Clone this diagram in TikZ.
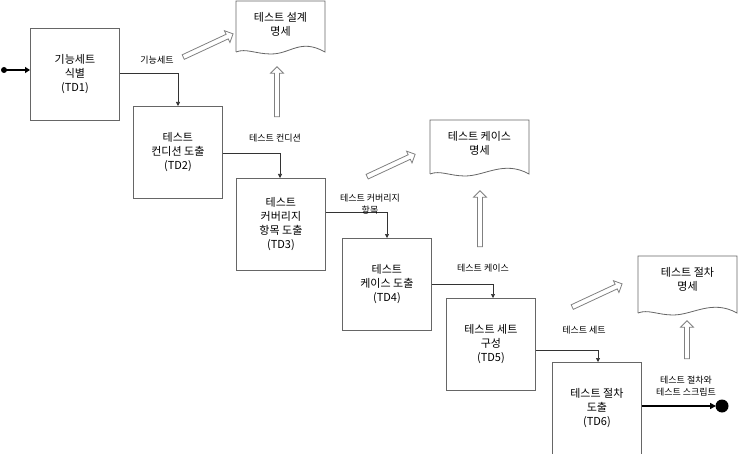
\documentclass[tikz,border=0pt]{standalone}
\usepackage{fontspec}
\setmainfont{Noto Sans CJK KR}
\usetikzlibrary{shapes.arrows,arrows.meta}
\begin{document}
\begin{tikzpicture}[x=1pt,y=-1pt,
  box/.style={draw=black!60,line width=0.8pt,minimum width=89pt,minimum height=92pt,align=center,font=\fontsize{11}{14}\selectfont,anchor=north west},
  lbl/.style={font=\fontsize{9}{12}\selectfont,align=center},
  flow/.style={draw=black!80,line width=0.7pt,-{Triangle[length=4pt,width=4pt]}},
  hol/.style={single arrow,draw=black!50,line width=0.8pt,fill=white,minimum width=13pt,single arrow head extend=3pt,inner sep=1.5pt},
  doctext/.style={font=\fontsize{11}{14}\selectfont,align=center}]
\useasboundingbox (0,0) rectangle (743,454);
\newcommand{\docshape}[4]{% x0 y0 x1 y1
  \draw[black!60,line width=0.8pt] (#1,#4) -- (#1,#2) -- (#3,#2) -- (#3,#4)
   .. controls ({#3-25},{#4-14}) and ({#1+55},{#4+2}) .. ({#1+35},{#4+2})
   .. controls ({#1+20},{#4+2}) and ({#1+10},{#4-4}) .. (#1,#4);}
\node[box] (td1) at (30,28) {기능세트\\식별\\(TD1)};
\node[box] (td2) at (133,106) {테스트\\컨디션 도출\\(TD2)};
\node[box] (td3) at (236,178) {테스트\\커버리지\\항목 도출\\(TD3)};
\node[box] (td4) at (342,238) {테스트\\케이스 도출\\(TD4)};
\node[box] (td5) at (446,298) {테스트 세트\\구성\\(TD5)};
\node[box] (td6) at (552,362) {테스트 절차\\도출\\(TD6)};
\docshape{236}{1}{325}{52}
\node[doctext] (d1) at (280.5,24) {테스트 설계\\명세};
\docshape{430}{120}{529}{174}
\node[doctext] (d2) at (479.5,143) {테스트 케이스\\명세};
\docshape{638}{256}{737}{313}
\node[doctext] (d3) at (687.5,279) {테스트 절차\\명세};
% start / end
\fill (4,70) circle (3pt) coordinate (s);
\draw[line width=1.6pt,-{Triangle[length=5pt,width=6pt]}] (s) -- (td1.west|-s);
\fill (722,406) circle (6.5pt) coordinate (e);
\draw[line width=1.8pt,-{Triangle[length=6pt,width=6pt]}] (td6.east|-e) -- ([xshift=-6pt]e);
% flows
\coordinate (c1) at (178,73); \draw[flow] (td1.east|-c1) -| (td2.north-|c1);
\coordinate (c2) at (280,153); \draw[flow] (td2.east|-c2) -| (td3.north-|c2);
\coordinate (c3) at (387,212); \draw[flow] (td3.east|-c3) -| (td4.north-|c3);
\coordinate (c4) at (493,284); \draw[flow] (td4.east|-c4) -| (td5.north-|c4);
\coordinate (c5) at (598,350); \draw[flow] (td5.east|-c5) -| (td6.north-|c5);
\node[lbl] (l1) at (157,60) {기능세트};
\node[lbl] (l2) at (275,138) {테스트 컨디션};
\node[lbl] (l3) at (370,204) {테스트 커버리지\\항목};
\node[lbl] (l4) at (483,268) {테스트 케이스};
\node[lbl] (l5) at (584,330) {테스트 세트};
\node[lbl] (l6) at (686,386) {테스트 절차와\\테스트 스크립트};
% hollow arrows
\node[hol,minimum height=55pt,rotate=25] (h1) at (207,46) {};
\node[hol,minimum height=50pt,rotate=90] (h2) at (277,93) {};
\node[hol,minimum height=53pt,rotate=25] (h3) at (390,166) {};
\node[hol,minimum height=56pt,rotate=90] (h4) at (480,220) {};
\node[hol,minimum height=55pt,rotate=25] (h5) at (596,296) {};
\node[hol,minimum height=38pt,rotate=90] (h6) at (687,341) {};
\end{tikzpicture}
\end{document}
